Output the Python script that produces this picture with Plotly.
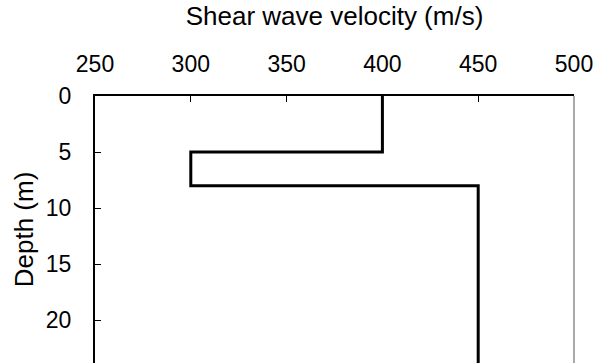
import plotly.graph_objects as go

# Shear wave velocity profile (step), depth in m
velocity = [400, 400, 300, 300, 450, 450]
depth = [0, 5, 5, 8, 8, 30]

x_ticks = [250, 300, 350, 400, 450, 500]
y_ticks = [0, 5, 10, 15, 20]

fig = go.Figure()

fig.add_trace(go.Scatter(
    x=velocity, y=depth, mode="lines",
    line=dict(color="black", width=3),
    showlegend=False, hoverinfo="skip",
))

tick_font = dict(family="Liberation Sans, Arial, sans-serif", size=23, color="black")
title_font = dict(family="Liberation Sans, Arial, sans-serif", size=26, color="black")

fig.update_layout(
    width=597, height=363,
    margin=dict(l=95, r=23, t=96, b=0, autoexpand=False),
    paper_bgcolor="white", plot_bgcolor="white",
    xaxis=dict(
        side="top", range=[250, 500], tickvals=x_ticks,
        ticks="inside", ticklen=6, tickwidth=1, tickcolor="black",
        showline=True, linecolor="black", linewidth=2,
        showgrid=False, zeroline=False, automargin=False,
        ticklabelstandoff=13, tickfont=tick_font,
        title=dict(text="Shear wave velocity (m/s)", standoff=18, font=title_font),
    ),
    yaxis=dict(
        range=[23.8, 0], tickvals=y_ticks,
        ticks="inside", ticklen=6, tickwidth=1, tickcolor="black",
        showline=True, linecolor="black", linewidth=2,
        showgrid=False, zeroline=False, automargin=False,
        ticklabelstandoff=17, tickfont=tick_font,
        title=dict(text="Depth (m)", standoff=5, font=title_font),
    ),
    shapes=[dict(type="line", xref="paper", yref="paper", x0=1, x1=1, y0=0, y1=1,
                 line=dict(color="#555555", width=1))],
)

# page body has a default 8px margin; drop it so the figure fills the window
fig.write_html("out.html", config={"displayModeBar": False},
               post_script="document.body.style.margin='0';")
